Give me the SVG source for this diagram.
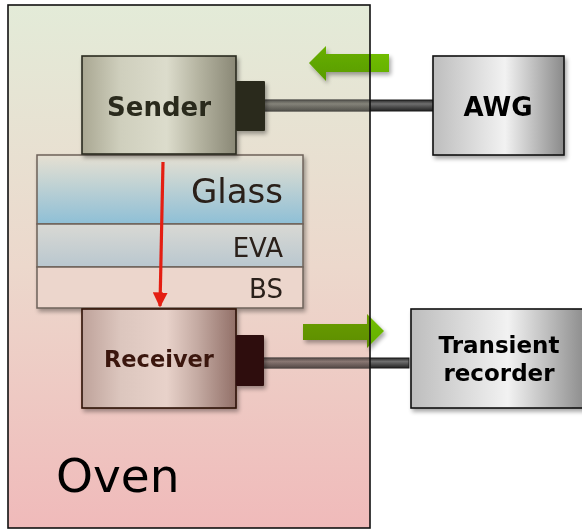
<svg xmlns="http://www.w3.org/2000/svg" width="582" height="531" viewBox="0 0 582 531">
  <defs>
    <linearGradient id="ovenFill" gradientUnits="userSpaceOnUse" x1="0" y1="5" x2="0" y2="528">
      <stop offset="0" stop-color="#e3ebd8"/>
      <stop offset="0.5" stop-color="#ecd8cc"/>
      <stop offset="1" stop-color="#f0baba"/>
    </linearGradient>
    <linearGradient id="senderFill" x1="0" y1="0" x2="1" y2="0">
      <stop offset="0" stop-color="#a9a792"/>
      <stop offset="0.25" stop-color="#cfcfbd"/>
      <stop offset="0.55" stop-color="#dcdccc"/>
      <stop offset="0.75" stop-color="#b6b5a2"/>
      <stop offset="1" stop-color="#8a8876"/>
    </linearGradient>
    <linearGradient id="receiverFill" x1="0" y1="0" x2="1" y2="0">
      <stop offset="0" stop-color="#bea29a"/>
      <stop offset="0.25" stop-color="#dcc6be"/>
      <stop offset="0.55" stop-color="#e8d2ca"/>
      <stop offset="0.75" stop-color="#c4aaa2"/>
      <stop offset="1" stop-color="#927068"/>
    </linearGradient>
    <linearGradient id="greyFill" x1="0" y1="0" x2="1" y2="0">
      <stop offset="0" stop-color="#bdbdbd"/>
      <stop offset="0.3" stop-color="#dadada"/>
      <stop offset="0.55" stop-color="#f2f2f2"/>
      <stop offset="0.8" stop-color="#b8b8b8"/>
      <stop offset="1" stop-color="#8a8a8a"/>
    </linearGradient>
    <linearGradient id="cableFill" x1="0" y1="0" x2="0" y2="1">
      <stop offset="0" stop-color="#2a2a2a"/>
      <stop offset="0.35" stop-color="#6e6e6e"/>
      <stop offset="1" stop-color="#222"/>
    </linearGradient>
    <linearGradient id="glassFill" x1="0" y1="0" x2="0" y2="1">
      <stop offset="0" stop-color="#e6e0d2"/>
      <stop offset="1" stop-color="#8ebfd6"/>
    </linearGradient>
    <linearGradient id="evaFill" x1="0" y1="0" x2="0" y2="1">
      <stop offset="0" stop-color="#d9d9d4"/>
      <stop offset="1" stop-color="#b9c7cf"/>
    </linearGradient>
    <linearGradient id="greenFill" x1="0" y1="0" x2="0" y2="1">
      <stop offset="0" stop-color="#74c000"/>
      <stop offset="1" stop-color="#62ae00"/>
    </linearGradient>
    <clipPath id="ovenClip"><rect x="8" y="5" width="362" height="523"/></clipPath>
    <filter id="shadow" x="-20%" y="-20%" width="150%" height="150%">
      <feGaussianBlur in="SourceAlpha" stdDeviation="2.2"/>
      <feOffset dx="2" dy="3" result="b"/>
      <feComponentTransfer><feFuncA type="linear" slope="0.35"/></feComponentTransfer>
      <feMerge><feMergeNode/><feMergeNode in="SourceGraphic"/></feMerge>
    </filter>
    <marker id="redHead" viewBox="0 0 10 10" refX="9" refY="5" markerWidth="4.7" markerHeight="4.7" orient="auto" markerUnits="strokeWidth">
      <path d="M0,0 L10,5 L0,10 Z" fill="#e41e12"/>
    </marker>
    <!-- shared shapes for cables and signal arrows -->
    <rect id="cableTx" x="262" y="100" width="172" height="11"/>
    <rect id="cableRx" x="262" y="358" width="147" height="10"/>
    <path id="arrowIn" d="M389,54 L326,54 L326,46 L309,63 L326,81 L326,72 L389,72 Z"/>
    <path id="arrowOut" d="M303,324 L367,324 L367,314 L384,331 L367,348 L367,340 L303,340 Z"/>
  </defs>
  <style>
    .box { stroke-width: 1.6; }
    .bold { font-family: "DejaVu Sans", Verdana, sans-serif; font-weight: bold; text-anchor: middle; }
    .layer { stroke: #6e625a; stroke-width: 1.5; }
    .lbl { font-family: "DejaVu Sans", Verdana, sans-serif; fill: #2a201a; text-anchor: end; }
    .cable { fill: url(#cableFill); stroke: #1a1a1a; stroke-width: 1; }
    .tint { mix-blend-mode: multiply; }
  </style>

  <!-- oven body -->
  <rect x="8" y="5" width="362" height="523" fill="url(#ovenFill)"/>

  <!-- connectors: cables and signal arrows -->
  <g id="connectors">
    <use href="#cableTx" class="cable"/>
    <use href="#cableRx" class="cable"/>
    <use href="#arrowIn" fill="url(#greenFill)" filter="url(#shadow)"/>
    <use href="#arrowOut" fill="url(#greenFill)" filter="url(#shadow)"/>
    <!-- oven colour tints the parts that run inside it -->
    <g class="tint" clip-path="url(#ovenClip)" fill="url(#ovenFill)">
      <use href="#cableTx"/>
      <use href="#cableRx"/>
      <use href="#arrowIn"/>
      <use href="#arrowOut"/>
    </g>
    <g clip-path="url(#ovenClip)" fill="url(#ovenFill)" fill-opacity="0.25">
      <use href="#cableTx"/>
      <use href="#cableRx"/>
    </g>
  </g>

  <!-- oven outline and label -->
  <g id="oven">
    <rect x="8" y="5" width="362" height="523" fill="none" stroke="#111" stroke-width="1.6"/>
    <text x="56" y="492" font-family="DejaVu Sans, Verdana, sans-serif" font-size="47" fill="#000">Oven</text>
  </g>

  <!-- sample stack -->
  <g id="layers" filter="url(#shadow)">
    <rect class="layer" x="37" y="155" width="266" height="69" fill="url(#glassFill)"/>
    <rect class="layer" x="37" y="224" width="266" height="43" fill="url(#evaFill)"/>
    <rect class="layer" x="37" y="267" width="266" height="41" fill="#ecd6cc"/>
  </g>
  <g id="glass"><text class="lbl" x="283" y="203" font-size="34">Glass</text></g>
  <g id="eva"><text class="lbl" x="283" y="257" font-size="26">EVA</text></g>
  <g id="bs"><text class="lbl" x="283" y="298" font-size="26">BS</text></g>

  <!-- sound path through the stack -->
  <line x1="163" y1="162" x2="160" y2="306" stroke="#e41e12" stroke-width="3.2" marker-end="url(#redHead)"/>

  <g id="sender" filter="url(#shadow)">
    <rect class="box" x="82" y="56" width="154" height="98" fill="url(#senderFill)" stroke="#2a2a1e"/>
    <rect x="236" y="81" width="29" height="50" rx="1" fill="#2c2c1a"/>
    <text class="bold" x="159" y="116" font-size="26" fill="#2a2a1e">Sender</text>
  </g>

  <g id="receiver" filter="url(#shadow)">
    <rect class="box" x="82" y="309" width="154" height="99" fill="url(#receiverFill)" stroke="#2e1208"/>
    <rect x="236" y="335" width="28" height="51" rx="1" fill="#2e1008"/>
    <text class="bold" x="159" y="367" font-size="22.5" fill="#3a1810">Receiver</text>
  </g>

  <g id="awg" filter="url(#shadow)">
    <rect class="box" x="433" y="56" width="131" height="99" fill="url(#greyFill)" stroke="#111"/>
    <text class="bold" x="498" y="116" font-size="26" fill="#000">AWG</text>
  </g>

  <g id="recorder" filter="url(#shadow)">
    <rect class="box" x="411" y="309" width="176" height="99" fill="url(#greyFill)" stroke="#111"/>
    <text class="bold" x="499" y="353" font-size="23" fill="#000">Transient</text>
    <text class="bold" x="499" y="381" font-size="23" fill="#000">recorder</text>
  </g>
</svg>
